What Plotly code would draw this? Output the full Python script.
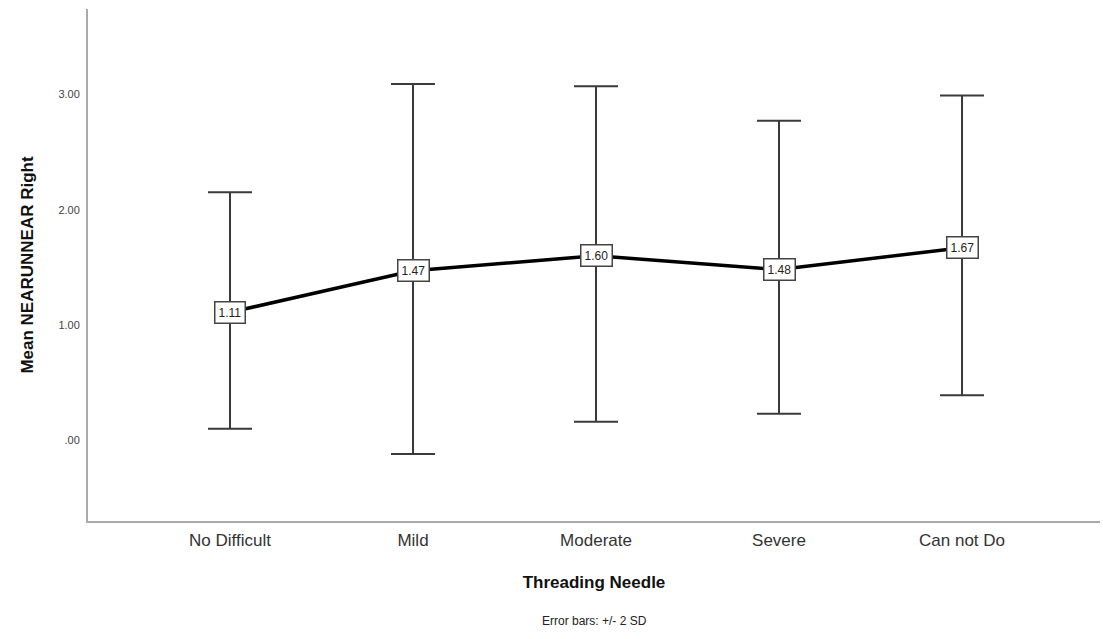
import plotly.graph_objects as go

categories = ["No Difficult", "Mild", "Moderate", "Severe", "Can not Do"]
means = [1.11, 1.47, 1.60, 1.48, 1.67]
upper = [2.15, 3.09, 3.07, 2.77, 2.99]
lower = [0.10, -0.12, 0.16, 0.23, 0.39]
mean_labels = ["1.11", "1.47", "1.60", "1.48", "1.67"]
y_ticks = [0, 1, 2, 3]
y_tick_labels = [".00", "1.00", "2.00", "3.00"]

xpos = list(range(len(categories)))
err_plus = [u - m for u, m in zip(upper, means)]
err_minus = [m - l for m, l in zip(means, lower)]

fig = go.Figure()
fig.add_trace(go.Scatter(
    x=xpos, y=means, mode="lines",
    line=dict(color="black", width=3.5),
    error_y=dict(type="data", symmetric=False, array=err_plus, arrayminus=err_minus,
                 color="#3a3a3a", thickness=2, width=22),
    showlegend=False, hoverinfo="skip",
))

for x, m, t in zip(xpos, means, mean_labels):
    fig.add_annotation(x=x, y=m, text=t, showarrow=False,
                       font=dict(family="Arial, Liberation Sans", size=12, color="#222"),
                       bgcolor="white", bordercolor="#444", borderwidth=1.5, borderpad=3)

fig.add_annotation(x=0.5, y=-0.195, xref="paper", yref="paper", yanchor="middle",
                   text="Error bars: +/- 2 SD",
                   showarrow=False, font=dict(family="Arial, Liberation Sans", size=12, color="#222"))

fig.update_layout(
    width=1103, height=639,
    margin=dict(l=88, r=3, t=9, b=118),
    paper_bgcolor="white", plot_bgcolor="white",
    font=dict(family="Arial, Liberation Sans"),
    xaxis=dict(
        range=[-0.776, 4.754], tickmode="array", tickvals=xpos, ticktext=categories,
        showgrid=False, zeroline=False, showline=True, linecolor="#aaaaaa", linewidth=2,
        ticks="", tickfont=dict(size=17, color="#333"), ticklabelstandoff=3,
        title=dict(text="<b>Threading Needle</b>", font=dict(size=17, color="#111"), standoff=27),
    ),
    yaxis=dict(
        range=[-0.70, 3.74], tickmode="array", tickvals=y_ticks, ticktext=y_tick_labels,
        showgrid=False, zeroline=False, showline=True, linecolor="#aaaaaa", linewidth=2,
        ticks="", tickfont=dict(size=11, color="#444"), ticklabelstandoff=4,
        title=dict(text="<b>Mean NEARUNNEAR Right</b>", font=dict(size=17, color="#111"), standoff=20),
    ),
)

fig.write_html("out.html")
